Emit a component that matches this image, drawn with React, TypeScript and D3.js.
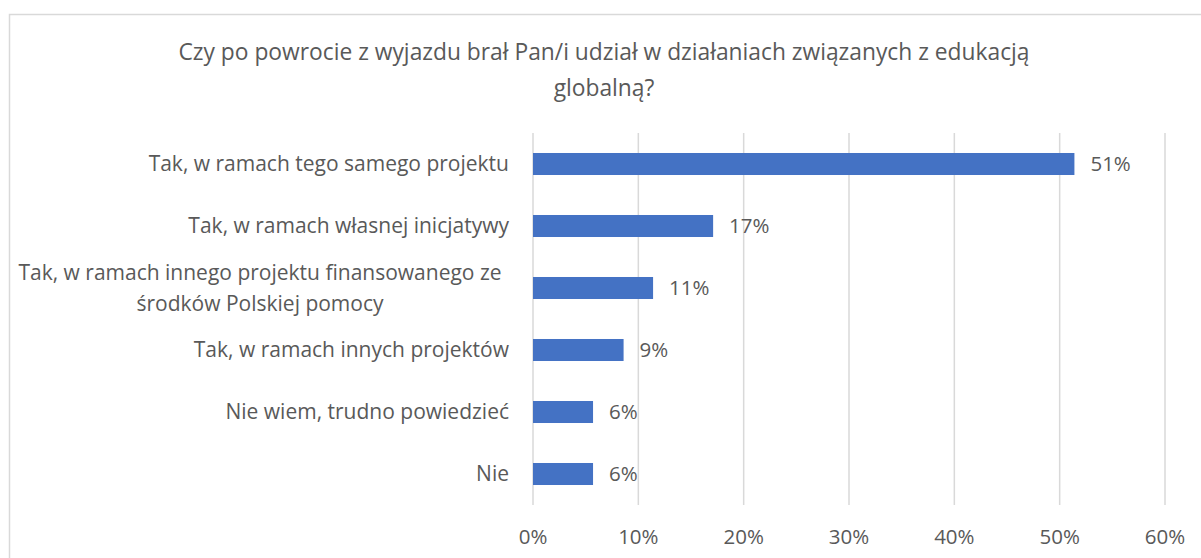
import React from "react";
import * as d3 from "d3";

const categories = [
  ["Tak, w ramach tego samego projektu"],
  ["Tak, w ramach własnej inicjatywy"],
  ["Tak, w ramach innego projektu finansowanego ze", "środków Polskiej pomocy"],
  ["Tak, w ramach innych projektów"],
  ["Nie wiem, trudno powiedzieć"],
  ["Nie"],
];
const values = [0.514, 0.171, 0.114, 0.086, 0.057, 0.057];
const valueLabels = ["51%", "17%", "11%", "9%", "6%", "6%"];
const ticks = [0, 0.1, 0.2, 0.3, 0.4, 0.5, 0.6];
const titleLines = [
  "Czy po powrocie z wyjazdu brał Pan/i udział w działaniach związanych z edukacją",
  "globalną?",
];

const W = 1201;
const H = 558;
const FONT = "'Open Sans', sans-serif";
const TXT = "#595959";

export default function App() {
  const x = d3.scaleLinear().domain([0, 0.6]).range([533, 1165]);
  const y = d3
    .scaleBand<number>()
    .domain(d3.range(categories.length))
    .range([133, 505])
    .paddingInner(0.645)
    .paddingOuter(0.3225);
  const fmt = d3.format(".0%");
  return (
    <svg
      width={W}
      height={H}
      style={{ position: "absolute", left: 0, top: 0, display: "block", fontFamily: FONT }}
    >
      <rect x={0} y={0} width={W} height={H} fill="#fff" />
      <rect x={9.5} y={14.5} width={W + 20} height={H + 20} fill="none" stroke="#d9d9d9" strokeWidth={1.5} />
      {titleLines.map((t, i) => (
        <text key={i} x={604} y={60 + i * 36} textAnchor="middle" fontSize={22.8} fill={TXT}>
          {t}
        </text>
      ))}
      {ticks.map((t) => (
        <g key={t}>
          <line x1={x(t)} x2={x(t)} y1={133} y2={505} stroke="#d9d9d9" strokeWidth={1.5} />
          <text x={x(t)} y={544} textAnchor="middle" fontSize={20.5} fill={TXT}>
            {fmt(t)}
          </text>
        </g>
      ))}
      {values.map((v, i) => {
        const yc = (y(i) as number) + y.bandwidth() / 2;
        const lines = categories[i];
        return (
          <g key={i}>
            <rect x={x(0)} y={y(i)} width={x(v) - x(0)} height={y.bandwidth()} fill="#4472c4" />
            <text x={x(v) + 16} y={yc} dy="0.35em" fontSize={20.5} fill={TXT}>
              {valueLabels[i]}
            </text>
            {lines.map((l, j) => (
              <text
                key={j}
                x={lines.length > 1 ? 260 : 509}
                y={yc + (j - (lines.length - 1) / 2) * 31}
                dy="0.35em"
                textAnchor={lines.length > 1 ? "middle" : "end"}
                fontSize={21}
                fill={TXT}
              >
                {l}
              </text>
            ))}
          </g>
        );
      })}
    </svg>
  );
}
